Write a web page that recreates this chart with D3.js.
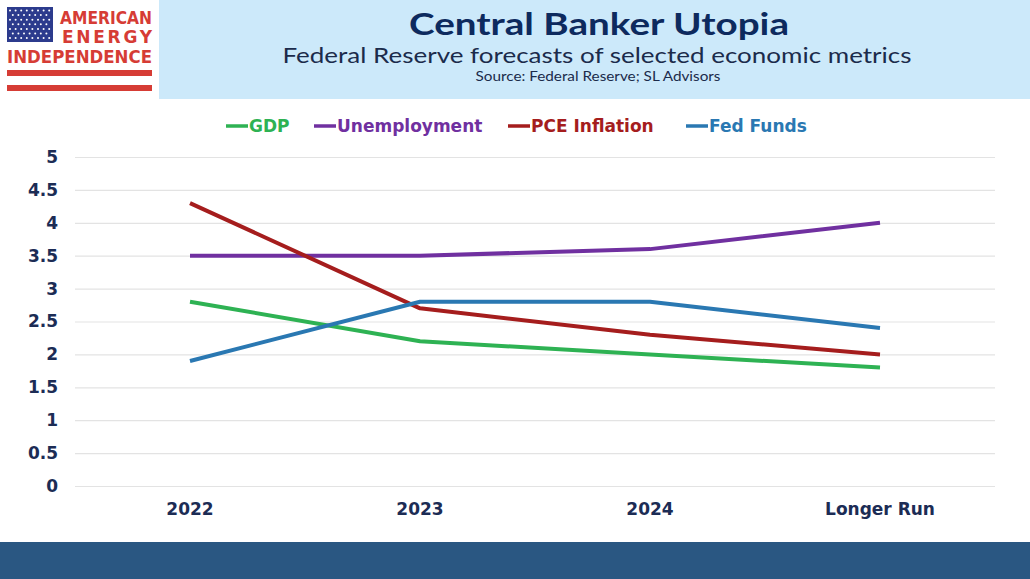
<!DOCTYPE html>
<html><head><meta charset="utf-8">
<script src="https://cdn.jsdelivr.net/npm/d3@7"></script>
<style>html,body{margin:0;padding:0;background:#fff;}svg{display:block;}</style>
</head><body>
<svg id="c" width="1030" height="579"></svg>
<script>
const categories = ["2022", "2023", "2024", "Longer Run"];
const gdp = [2.8, 2.2, 2.0, 1.8];
const unemployment = [3.5, 3.5, 3.6, 4.0];
const pceInflation = [4.3, 2.7, 2.3, 2.0];
const fedFunds = [1.9, 2.8, 2.8, 2.4];
const seriesNames = ["GDP", "Unemployment", "PCE Inflation", "Fed Funds"];
const yTicks = [0, 0.5, 1, 1.5, 2, 2.5, 3, 3.5, 4, 4.5, 5];

const series = [
  {name: seriesNames[0], values: gdp, color: "#2eb253"},
  {name: seriesNames[1], values: unemployment, color: "#7030a0"},
  {name: seriesNames[2], values: pceInflation, color: "#a51d1d"},
  {name: seriesNames[3], values: fedFunds, color: "#2a78b2"}
];

const svg = d3.select("#c");

// Header band
svg.append("rect").attr("x", 159).attr("y", 0).attr("width", 871).attr("height", 99).attr("fill", "#cce9fa");
// Bottom band
svg.append("rect").attr("x", 0).attr("y", 542).attr("width", 1030).attr("height", 37).attr("fill", "#2a5782");

// Logo
const logo = svg.append("g");
logo.append("rect").attr("x", 7).attr("y", 7).attr("width", 46).attr("height", 35).attr("fill", "#2c3b8d");
for (let r = 0; r < 7; r++) {
  for (let c = 0; c < 8; c++) {
    const off = (r % 2) ? 2.8 : 0;
    const sx = 10 + c * 5.6 + off;
    if (sx > 51) continue;
    logo.append("circle").attr("cx", sx).attr("cy", 10.5 + r * 4.6).attr("r", 1).attr("fill", "#fff");
  }
}
const red = "#d63c35";
logo.append("text").attr("x", 152).attr("y", 24).attr("text-anchor", "end")
  .attr("font-family", "DejaVu Sans").attr("font-weight", "bold").attr("font-size", 17)
  .attr("fill", red).attr("textLength", 92).attr("lengthAdjust", "spacingAndGlyphs").text("AMERICAN");
logo.append("text").attr("x", 152).attr("y", 43).attr("text-anchor", "end")
  .attr("font-family", "DejaVu Sans").attr("font-weight", "bold").attr("font-size", 17)
  .attr("fill", red).attr("textLength", 90).attr("lengthAdjust", "spacing").text("ENERGY");
logo.append("text").attr("x", 7).attr("y", 63)
  .attr("font-family", "DejaVu Sans").attr("font-weight", "bold").attr("font-size", 17)
  .attr("fill", red).attr("textLength", 145).attr("lengthAdjust", "spacingAndGlyphs").text("INDEPENDENCE");
logo.append("rect").attr("x", 7).attr("y", 70).attr("width", 145).attr("height", 6).attr("fill", red);
logo.append("rect").attr("x", 7).attr("y", 85).attr("width", 145).attr("height", 6).attr("fill", red);

// Titles
svg.append("text").attr("x", 599).attr("y", 35).attr("text-anchor", "middle")
  .attr("font-family", "Lato").attr("font-weight", "bold").attr("font-size", 30)
  .attr("fill", "#0d2a5e").attr("textLength", 380).attr("lengthAdjust", "spacingAndGlyphs")
  .text("Central Banker Utopia");
svg.append("text").attr("x", 597).attr("y", 63).attr("text-anchor", "middle")
  .attr("font-family", "Lato").attr("font-size", 22)
  .attr("fill", "#1b2b4b").attr("textLength", 629).attr("lengthAdjust", "spacingAndGlyphs")
  .text("Federal Reserve forecasts of selected economic metrics");
svg.append("text").attr("x", 598).attr("y", 81).attr("text-anchor", "middle")
  .attr("font-family", "Lato").attr("font-size", 14)
  .attr("fill", "#1b2b4b").attr("textLength", 245).attr("lengthAdjust", "spacingAndGlyphs")
  .text("Source: Federal Reserve; SL Advisors");

// Scales
const x = d3.scaleBand().domain(categories).range([75, 995]);
const y = d3.scaleLinear().domain([0, 5]).range([486, 157]);
const cx = d => x(d) + x.bandwidth() / 2;

// Gridlines
svg.append("g").selectAll("line").data(yTicks).join("line")
  .attr("x1", 75).attr("x2", 995)
  .attr("y1", d => y(d) + 0.5).attr("y2", d => y(d) + 0.5)
  .attr("stroke", "#e3e3e3").attr("stroke-width", 1.2);

// Y axis
const yAxis = svg.append("g").attr("transform", "translate(62,0)")
  .call(d3.axisLeft(y).tickValues(yTicks).tickSize(0).tickPadding(4).tickFormat(d3.format("~g")));
yAxis.select(".domain").remove();
yAxis.selectAll("text").attr("font-family", "DejaVu Sans").attr("font-weight", "bold")
  .attr("font-size", 17).attr("fill", "#1c2c55");

// X axis
const xAxis = svg.append("g").attr("transform", "translate(0,500)")
  .call(d3.axisBottom(x).tickSize(0).tickPadding(3));
xAxis.select(".domain").remove();
xAxis.selectAll("text").attr("font-family", "DejaVu Sans").attr("font-weight", "bold")
  .attr("font-size", 17).attr("fill", "#1c2c55");

// Lines
const line = d3.line().x((d, i) => cx(categories[i])).y(d => y(d)).curve(d3.curveLinear);
svg.append("g").selectAll("path").data(series).join("path")
  .attr("d", d => line(d.values))
  .attr("fill", "none").attr("stroke", d => d.color).attr("stroke-width", 4)
  .attr("stroke-linejoin", "round");

// Legend
const legendX = [226, 314, 508, 686];
const lg = svg.append("g").selectAll("g").data(series).join("g")
  .attr("transform", (d, i) => `translate(${legendX[i]},126)`);
lg.append("line").attr("x1", 0).attr("x2", 22).attr("y1", 0).attr("y2", 0)
  .attr("stroke", d => d.color).attr("stroke-width", 3.5);
lg.append("text").attr("x", 23).attr("y", 6)
  .attr("font-family", "DejaVu Sans").attr("font-weight", "bold").attr("font-size", 17)
  .attr("fill", d => d.color).text(d => d.name);
</script>
</body></html>
